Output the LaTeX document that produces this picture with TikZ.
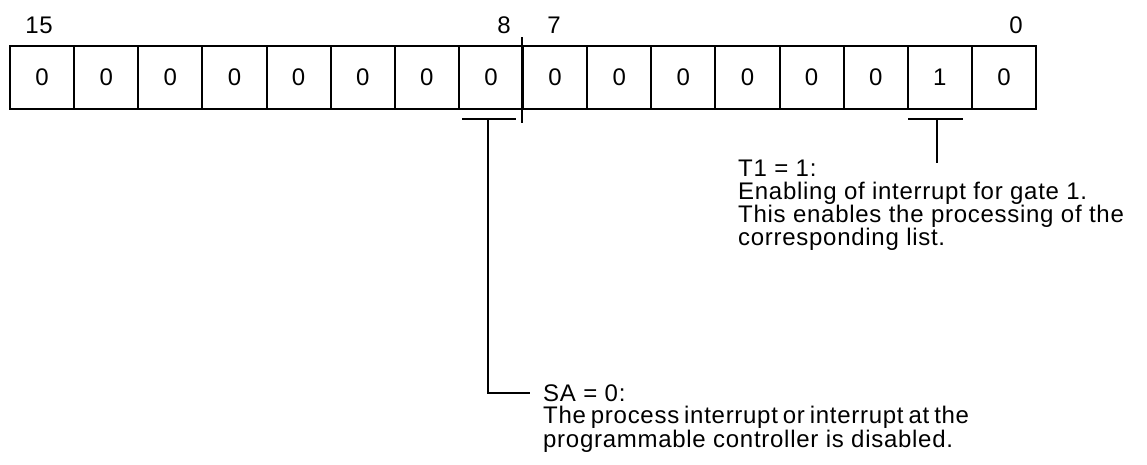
\documentclass[tikz,border=0pt]{standalone}
\usepackage{fontspec}
\setmainfont{Liberation Sans}[LetterSpace=3]
\begin{document}
\begin{tikzpicture}[x=1pt,y=-1pt,
  bitcell/.style={draw,line width=2pt,minimum width=64.125pt,minimum height=63pt,inner sep=0pt,anchor=north west,font=\fontsize{24}{24}\selectfont},
  bitnum/.style={font=\fontsize{24}{24}\selectfont,inner sep=0pt},
  txt/.style={font=\fontsize{24}{23}\selectfont,inner sep=0pt,align=left,anchor=base west},
  conn/.style={line width=2pt}]
\useasboundingbox (0,0) rectangle (1147,464);
\foreach \b/\v in {15/0,14/0,13/0,12/0,11/0,10/0,9/0,8/0,7/0,6/0,5/0,4/0,3/0,2/0,1/1,0/0}{
  \node[bitcell] (c\b) at ({9+(15-\b)*64.125},45) {\v};
}
\node[bitnum] (n15) at (39,25) {15};
\node[bitnum] (n8) at (504,25) {8};
\node[bitnum] (n7) at (554,25) {7};
\node[bitnum] (n0) at (1016,25) {0};
% divider between bytes
\coordinate (dtop) at (522,37);
\coordinate (dbot) at (522,123);
\draw[conn] (dtop) -- (dbot);
% bracket bit 8
\coordinate (b8l) at (462,119);
\coordinate (b8r) at (516,119);
\coordinate (b8m) at (488,119);
\coordinate (b8c) at (488,393);
\coordinate (b8e) at (530,393);
\draw[conn] (b8l) -- (b8r);
\draw[conn] (b8m) -- (b8c) -- (b8e);
% bracket bit 1
\coordinate (b1l) at (908,119);
\coordinate (b1r) at (963,119);
\coordinate (b1m) at (937,119);
\coordinate (b1e) at (937,163);
\draw[conn] (b1l) -- (b1r);
\draw[conn] (b1m) -- (b1e);
\node[txt] (t1) at (738,245) {T1 = 1:\\Enabling of interrupt for gate 1.\\This enables the processing of the\\corresponding list.};
\node[txt,font=\fontsize{24}{22}\selectfont] (sa) at (543,447) {SA = 0:\\\makebox[313pt][s]{The process interrupt or interrupt at the}\\programmable controller is disabled.};
\end{tikzpicture}
\end{document}
